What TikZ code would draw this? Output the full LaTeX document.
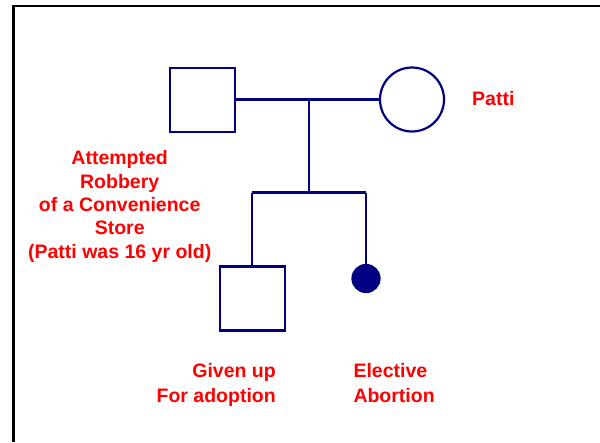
\documentclass[tikz,border=0pt]{standalone}
\usepackage{fontspec}
\setmainfont{Liberation Sans}
\definecolor{navy}{RGB}{0,0,128}
\begin{document}
\begin{tikzpicture}[x=1pt,y=-1pt,
  pline/.style={draw=navy, line width=2.2pt},
  male/.style={pline, rectangle, minimum width=65pt, minimum height=64pt, inner sep=0pt},
  female/.style={pline, circle, minimum size=64pt, inner sep=0pt},
  dead/.style={pline, fill=navy, circle, minimum size=27pt, inner sep=0pt},
  lbl/.style={text=red, font=\fontsize{19.5}{23.3}\selectfont\bfseries, inner sep=0pt},
  lblb/.style={text=red, font=\fontsize{19.5}{25}\selectfont\bfseries, inner sep=0pt}]
\useasboundingbox (0,0) rectangle (600,442);
% frame
\coordinate (ftr) at (600,6);
\coordinate (ftl) at (13.5,6);
\coordinate (fbl) at (13.5,442);
\draw[line width=2.5pt] (ftr) -- (ftl) -- (fbl);
% persons
\node[male] (father) at (202.5,100) {};
\node[female] (mother) at (412,99.5) {};
\node[male] (son) at (252.3,298.5) {};
\node[dead] (abort) at (366,278.5) {};
% connectors
\coordinate (m) at (309,99.5);
\coordinate (s) at (309,192.5);
\coordinate (sl) at (252.3,192.5);
\coordinate (sr) at (366,192.5);
\draw[pline] (father.east |- m) -- (mother.west |- m);
\draw[pline] (m) -- (s);
\draw[pline] (sl) -- (sr);
\draw[pline] (sl) -- (son.north);
\draw[pline] (sr) -- (abort.north);
% labels
\node[lbl, anchor=base west] (patti) at (472,105.5) {Patti};
\node[lbl, align=center, anchor=base] (rob) at (119.7,258) {Attempted\\Robbery\\of a Convenience\\Store\\(Patti was 16 yr old)};
\node[lblb, align=right, anchor=base east] (given) at (276,402.7) {Given up\\For adoption};
\node[lblb, align=left, anchor=base west] (elect) at (353.3,402.7) {Elective\\Abortion};
\end{tikzpicture}
\end{document}
